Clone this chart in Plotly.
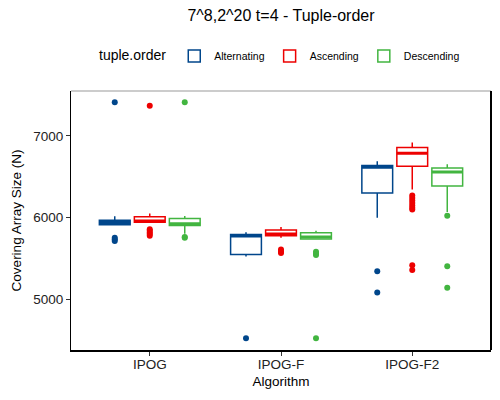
import plotly.graph_objects as go

categories = ["IPOG", "IPOG-F", "IPOG-F2"]
series = ["Alternating", "Ascending", "Descending"]
colors = ["#00468B", "#ED0000", "#42B540"]

# summary statistics, per series, per category
q1 = {
    "Alternating": [5915, 5551, 6302],
    "Ascending":   [5945, 5780, 6629],
    "Descending":  [5905, 5739, 6388],
}
median = {
    "Alternating": [5940, 5776, 6617],
    "Ascending":   [5958, 5800, 6788],
    "Descending":  [5925, 5763, 6559],
}
q3 = {
    "Alternating": [5968, 5796, 6637],
    "Ascending":   [6010, 5849, 6858],
    "Descending":  [5990, 5817, 6608],
}
lower_whisker = {
    "Alternating": [5905, 5527, 6000],
    "Ascending":   [5940, 5756, 6344],
    "Descending":  [5805, 5739, 6070],
}
upper_whisker = {
    "Alternating": [6017, 5821, 6690],
    "Ascending":   [6050, 5886, 6919],
    "Descending":  [6020, 5841, 6653],
}
outliers = {
    "Alternating": {
        "IPOG": [7409, 5755, 5735, 5715],
        "IPOG-F": [4527],
        "IPOG-F2": [5347, 5086],
    },
    "Ascending": {
        "IPOG": [7367, 5860, 5840, 5820, 5800, 5780],
        "IPOG-F": [5610, 5590, 5570],
        "IPOG-F2": [6270, 6240, 6210, 6180, 6150, 6120, 6100, 5420, 5360],
    },
    "Descending": {
        "IPOG": [7409, 5765, 5755],
        "IPOG-F": [5585, 5565, 5545, 4527],
        "IPOG-F2": [6025, 5408, 5144],
    },
}

y_ticks = [5000, 6000, 7000]

fig = go.Figure()
FONT = "Liberation Sans, Arial, sans-serif"

for s, c in zip(series, colors):
    fig.add_trace(go.Box(
        name=s, x=categories,
        q1=q1[s], median=median[s], q3=q3[s],
        lowerfence=lower_whisker[s], upperfence=upper_whisker[s],
        offsetgroup=s, legendgroup=s,
        line=dict(color=c, width=1.5), fillcolor="white",
        boxpoints=False, whiskerwidth=0, hoverinfo="skip",
    ))
    # thicker median line
    fig.add_trace(go.Box(
        name=s, x=categories,
        q1=median[s], median=median[s], q3=median[s],
        lowerfence=median[s], upperfence=median[s],
        offsetgroup=s, legendgroup=s, showlegend=False,
        line=dict(color=c, width=3), fillcolor="rgba(0,0,0,0)",
        boxpoints=False, whiskerwidth=0, hoverinfo="skip",
    ))
    ox, oy = [], []
    for cat in categories:
        for v in outliers[s][cat]:
            ox.append(cat)
            oy.append(v)
    fig.add_trace(go.Box(
        name=s, x=ox, y=oy,
        offsetgroup=s, legendgroup=s, showlegend=False,
        boxpoints="all", jitter=0, pointpos=0,
        line=dict(color="rgba(0,0,0,0)", width=0), fillcolor="rgba(0,0,0,0)",
        marker=dict(color=c, size=6), hoverinfo="skip",
    ))

fig.update_layout(
    width=492, height=392,
    margin=dict(l=63, r=9, t=83, b=50, autoexpand=False),
    paper_bgcolor="white", plot_bgcolor="white",
    boxmode="group", boxgap=0.2, boxgroupgap=0.12,
    font=dict(family=FONT, color="black"),
    title=dict(text="7^8,2^20 t=4 - Tuple-order", x=0.5, xref="paper",
               xanchor="center", y=1 - 7 / 392, yanchor="middle",
               font=dict(size=16, color="black")),
    legend=dict(orientation="h", x=0.5, xanchor="center", y=1.135, yanchor="middle",
                title=dict(text="tuple.order", side="left", font=dict(size=14)),
                font=dict(size=10.5), itemwidth=30, traceorder="normal"),
    showlegend=True,
)
fig.update_xaxes(
    type="category", categoryorder="array", categoryarray=categories,
    range=[-0.6, 2.6], automargin=False,
    showline=True, linecolor="black", linewidth=1.5,
    ticks="outside", ticklen=4, tickcolor="#333333",
    tickfont=dict(size=13.5, color="#222222"), ticklabelstandoff=-3,
    title=dict(text="Algorithm", font=dict(size=13.5), standoff=6),
    showgrid=False, zeroline=False,
)
fig.update_yaxes(
    range=[4384, 7547], tickvals=y_ticks, automargin=False,
    showline=True, linecolor="black", linewidth=1,
    ticks="outside", ticklen=4, tickcolor="#333333",
    tickfont=dict(size=13.5, color="#222222"),
    title=dict(text="Covering Array Size (N)", font=dict(size=13.5), standoff=8),
    showgrid=False, zeroline=False,
)
# panel border (top thin grey, right thick black)
fig.add_shape(type="line", xref="paper", yref="paper", x0=0, x1=1, y0=1, y1=1,
              line=dict(color="#999999", width=1))
fig.add_shape(type="line", xref="paper", yref="paper", x0=1, x1=1, y0=0, y1=1,
              line=dict(color="black", width=2))

fig.write_html("out.html")
